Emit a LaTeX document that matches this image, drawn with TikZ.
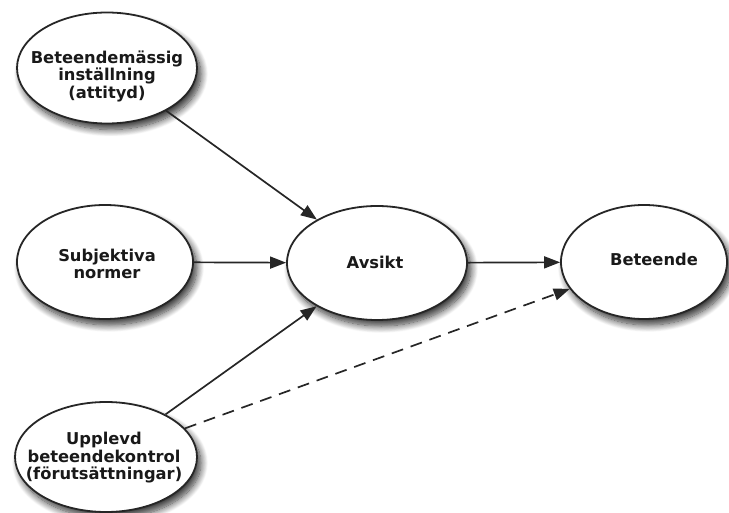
\documentclass[tikz,border=0pt]{standalone}
\usepackage{fontspec}
\setmainfont{DejaVu Sans}
\usetikzlibrary{arrows.meta,shapes.geometric,shadows.blur}
\tikzset{
  oval/.style={ellipse, draw=black!85, line width=1.8pt, fill=white, inner sep=0pt,
    blur shadow={shadow xshift=4pt, shadow yshift=-6pt, shadow blur radius=7pt, shadow blur steps=12, shadow opacity=80}},
  lbl/.style={align=center, font=\bfseries\fontsize{16.3}{17.5}\selectfont, text=black!90},
  conn/.style={line width=1.7pt, draw=black!85, -{Triangle[length=16pt,width=12pt]}},
  dconn/.style={conn, dash pattern=on 12pt off 8pt}
}
\begin{document}
\begin{tikzpicture}[x=1pt,y=-1pt]
\useasboundingbox (0,0) rectangle (729,513);
\node[oval, minimum width=180pt, minimum height=111pt] (att) at (107,68) {};
\node[oval, minimum width=176pt, minimum height=114pt] (sub) at (105,262) {};
\node[oval, minimum width=182pt, minimum height=110pt] (kon) at (106,457) {};
\node[oval, minimum width=180pt, minimum height=114pt] (avs) at (377,263) {};
\node[oval, minimum width=166pt, minimum height=114pt] (bet) at (644,262) {};
\node[lbl] (attl) at (107,76) {Beteendemässig\\inställning\\(attityd)};
\node[lbl] (subl) at (107,264) {Subjektiva\\normer};
\node[lbl] (konl) at (104,458) {Upplevd\\beteendekontrol\\(förutsättningar)};
\node[lbl] (avsl) at (375,262) {Avsikt};
\node[lbl] (betl) at (654,259) {Beteende};
\draw[conn] (att) -- (avs);
\draw[conn] (sub) -- (avs);
\draw[conn] (kon) -- (avs);
\draw[conn] (avs) -- (bet);
\draw[dconn] (kon) -- (bet);
\end{tikzpicture}
\end{document}
